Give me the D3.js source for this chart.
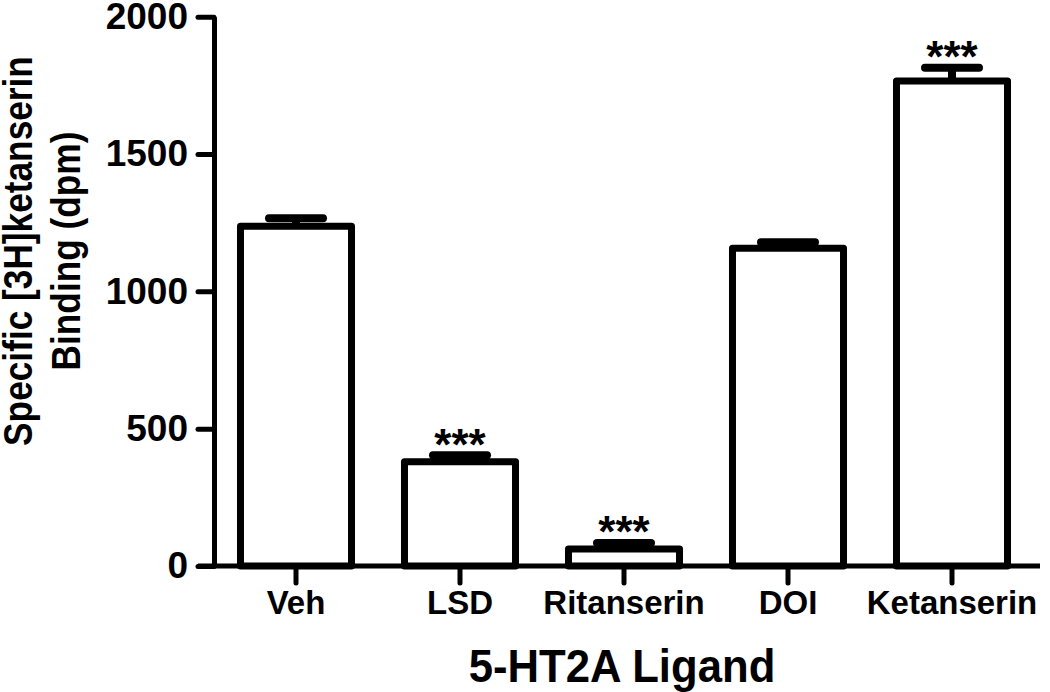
<!DOCTYPE html>
<html>
<head>
<meta charset="utf-8">
<script src="https://cdn.jsdelivr.net/npm/d3@7"></script>
<style>
  html, body { margin: 0; padding: 0; background: #fff; }
  svg { display: block; }
  text { font-family: "Liberation Sans", Arial, sans-serif; font-weight: bold; fill: #000; }
</style>
</head>
<body>
<svg id="chart" width="1050" height="692"></svg>
<script>
const categories = ["Veh", "LSD", "Ritanserin", "DOI", "Ketanserin"];
const means = [1237, 380, 62, 1157, 1766];
const sems = [29, 23, 22, 22, 48];
const significance = ["", "***", "***", "", "***"];
const yTicks = [0, 500, 1000, 1500, 2000];

const svg = d3.select("#chart");

const y = d3.scaleLinear().domain([0, 2000]).range([566, 16.7]);
const x = d3.scaleBand().domain(categories).range([214, 1034])
  .paddingInner(0.323).paddingOuter(0.1615);

const data = categories.map((c, i) => ({ c, m: means[i], s: sems[i], sig: significance[i] }));

// bars
svg.append("g").selectAll("rect").data(data).join("rect")
  .attr("x", d => x(d.c))
  .attr("width", x.bandwidth())
  .attr("y", d => y(d.m))
  .attr("height", d => y(0) - y(d.m))
  .attr("fill", "#fff")
  .attr("stroke", "#000")
  .attr("stroke-width", 7)
  .attr("stroke-linejoin", "round");

// error bars
const eb = svg.append("g");
eb.selectAll("line.stem").data(data).join("line")
  .attr("class", "stem")
  .attr("x1", d => x(d.c) + x.bandwidth() / 2)
  .attr("x2", d => x(d.c) + x.bandwidth() / 2)
  .attr("y1", d => y(d.m))
  .attr("y2", d => y(d.m + d.s))
  .attr("stroke", "#000").attr("stroke-width", 8);
eb.selectAll("line.cap").data(data).join("line")
  .attr("class", "cap")
  .attr("x1", d => x(d.c) + x.bandwidth() / 2 - 27)
  .attr("x2", d => x(d.c) + x.bandwidth() / 2 + 27)
  .attr("y1", d => y(d.m + d.s))
  .attr("y2", d => y(d.m + d.s))
  .attr("stroke", "#000").attr("stroke-width", 8).attr("stroke-linecap", "round");

// significance stars
svg.append("g").selectAll("text").data(data.filter(d => d.sig)).join("text")
  .attr("x", d => x(d.c) + x.bandwidth() / 2)
  .attr("y", d => y(d.m + d.s) - 27 + 0.716 * 44)
  .attr("text-anchor", "middle")
  .style("font-size", "44px")
  .text(d => d.sig);

// y axis
const yAxis = svg.append("g").attr("transform", "translate(214,0)")
  .call(d3.axisLeft(y).tickValues(yTicks).tickFormat(d3.format("d")).tickSize(16).tickSizeOuter(0).tickPadding(10));
yAxis.select(".domain").attr("stroke-width", 5);
yAxis.selectAll(".tick line").attr("stroke-width", 5).attr("stroke-linecap", "round");
yAxis.selectAll(".tick text").style("font-size", "37px").attr("fill", "#000");

// x axis
const xAxis = svg.append("g").attr("transform", "translate(0,566)")
  .call(d3.axisBottom(x).tickSize(17).tickSizeOuter(0).tickPadding(8));
xAxis.select(".domain").remove();
xAxis.selectAll(".tick line").attr("stroke-width", 5).attr("stroke-linecap", "round");
xAxis.selectAll(".tick text").style("font-size", "33px").attr("fill", "#000");
svg.append("line")
  .attr("x1", 198).attr("x2", 1040).attr("y1", y(0)).attr("y2", y(0))
  .attr("stroke", "#000").attr("stroke-width", 5);

// axis titles
svg.append("text")
  .attr("transform", "translate(622,682) scale(0.95,1)")
  .attr("text-anchor", "middle")
  .style("font-size", "46px")
  .text("5-HT2A Ligand");

const yt = svg.append("text")
  .attr("transform", "translate(0,251) rotate(-90) scale(0.86,1)")
  .attr("text-anchor", "middle")
  .style("font-size", "41px");
yt.append("tspan").attr("x", 0).attr("y", 32).text("Specific [3H]ketanserin");
yt.append("tspan").attr("x", 0).attr("y", 80).text("Binding (dpm)");
</script>
</body>
</html>
